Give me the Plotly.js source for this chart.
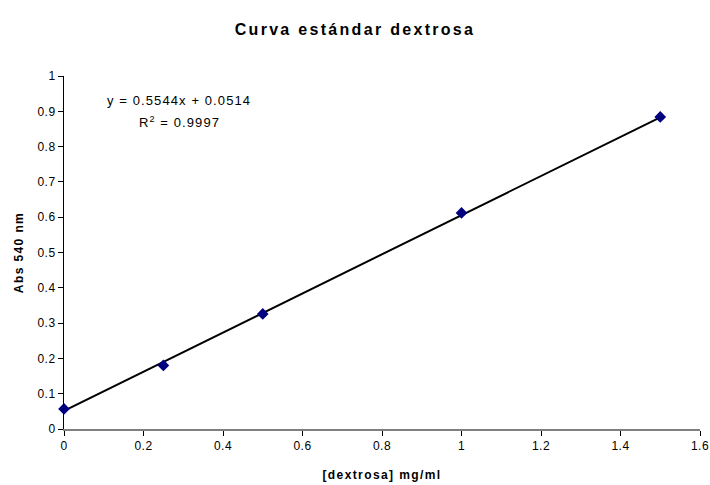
<!DOCTYPE html>
<html><head><meta charset="utf-8">
<script src="https://cdn.plot.ly/plotly-3.0.1.min.js"></script>
<style>
html,body{margin:0;padding:0;background:#fff}
#chart{width:710px;height:485px}
#chart .gtitle{letter-spacing:2.3px}
#chart .xtitle,#chart .ytitle{letter-spacing:1.4px}
#chart .xtick text,#chart .ytick text{letter-spacing:0.5px}
#chart .annotation-text{letter-spacing:1.1px}
</style>
</head><body><div id="chart"></div>
<script>
var concentration = [0, 0.25, 0.5, 1.0, 1.5];
var absorbance = [0.057, 0.180, 0.326, 0.612, 0.884];
var trendX = [0, 1.5];
var trendY = [0.0514, 0.8830];
var xTicks = [0, 0.2, 0.4, 0.6, 0.8, 1, 1.2, 1.4, 1.6];
var yTicks = [0, 0.1, 0.2, 0.3, 0.4, 0.5, 0.6, 0.7, 0.8, 0.9, 1];

var traces = [
  {x: trendX, y: trendY, mode: 'lines', line: {color: '#000000', width: 2}, hoverinfo: 'skip', showlegend: false},
  {x: concentration, y: absorbance, mode: 'markers', marker: {symbol: 'diamond', size: 9, color: '#000080'}, showlegend: false, cliponaxis: false}
];

var layout = {
  width: 710, height: 485,
  margin: {l: 64, r: 10, t: 76, b: 56},
  paper_bgcolor: '#ffffff', plot_bgcolor: '#ffffff',
  font: {family: 'Arial, Liberation Sans, sans-serif', size: 12, color: '#000'},
  title: {text: 'Curva estándar dextrosa', font: {size: 16, color: '#000', family: 'Arial, Liberation Sans, sans-serif', weight: 'bold'}, x: 0.5, xanchor: 'center', y: 0.94, yanchor: 'middle'},
  xaxis: {
    range: [0, 1.6], tickvals: xTicks, ticktext: xTicks.map(String),
    showgrid: false, zeroline: false, showline: true, linecolor: '#808080', linewidth: 2,
    ticks: 'outside', ticklen: 5, tickcolor: '#000', tickwidth: 1,
    tickfont: {size: 12}, fixedrange: true,
    title: {text: '[dextrosa] mg/ml', font: {size: 12, weight: 'bold'}, standoff: 18}
  },
  yaxis: {
    range: [0, 1], tickvals: yTicks, ticktext: yTicks.map(String),
    showgrid: false, zeroline: false, showline: true, linecolor: '#000', linewidth: 1,
    ticks: 'outside', ticklen: 5, tickcolor: '#000', tickwidth: 1,
    tickfont: {size: 12}, fixedrange: true,
    title: {text: 'Abs 540 nm', font: {size: 12, weight: 'bold'}, standoff: 12}
  },
  annotations: [
    {xref: 'paper', yref: 'paper', x: 0.081, y: 0.931, xanchor: 'left', yanchor: 'middle', showarrow: false,
     text: 'y = 0.5544x + 0.0514', font: {size: 13}},
    {xref: 'paper', yref: 'paper', x: 0.124, y: 0.87, xanchor: 'left', yanchor: 'middle', showarrow: false,
     text: 'R<sup>2</sup> = 0.9997', font: {size: 13}}
  ]
};
Plotly.newPlot('chart', traces, layout, {displayModeBar: false, staticPlot: true});
</script></body></html>
